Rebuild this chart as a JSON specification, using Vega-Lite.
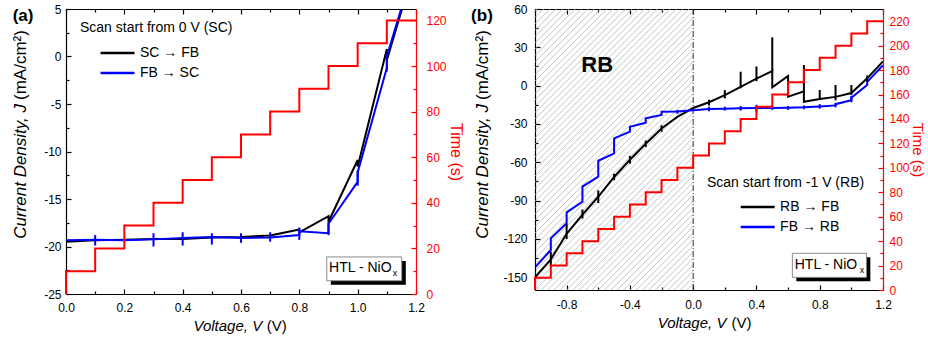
{
 "$schema": "https://vega.github.io/schema/vega-lite/v6.json",
 "padding": {"left": 11, "top": 3, "right": 3, "bottom": 0},
 "background": "white",
 "config": {
   "view": {"stroke": null},
   "font": "Liberation Sans",
   "axis": {"grid": false, "labelFont": "Liberation Sans", "labelFontSize": 12, "labelFlush": false, "labelOverlap": false, "labelColor": "#000", "tickColor": "#000", "domainColor": "#000", "domainWidth": 1.2, "tickWidth": 1.2, "titleFont": "Liberation Sans"},
   "legend": {"titleFont": "Liberation Sans", "labelFont": "Liberation Sans"},
   "text": {"font": "Liberation Sans"}
 },
 "spacing": 7,
 "resolve": {"scale": {"color": "independent"}, "legend": {"color": "independent"}},
 "datasets": {
   "aLines": [
     {"s":"SC → FB","i":1,"V":0,"J":-19.5},
     {"s":"SC → FB","i":2,"V":0.1,"J":-19.35},
     {"s":"SC → FB","i":3,"V":0.2,"J":-19.3},
     {"s":"SC → FB","i":4,"V":0.3,"J":-19.2},
     {"s":"SC → FB","i":5,"V":0.4,"J":-19.2},
     {"s":"SC → FB","i":6,"V":0.5,"J":-19.05},
     {"s":"SC → FB","i":7,"V":0.6,"J":-19.0},
     {"s":"SC → FB","i":8,"V":0.7,"J":-18.85},
     {"s":"SC → FB","i":9,"V":0.8,"J":-18.2},
     {"s":"SC → FB","i":10,"V":0.8,"J":-18.5},
     {"s":"SC → FB","i":11,"V":0.9,"J":-16.8},
     {"s":"SC → FB","i":12,"V":0.9,"J":-17.4},
     {"s":"SC → FB","i":13,"V":1.0,"J":-10.9},
     {"s":"SC → FB","i":14,"V":1.0,"J":-11.6},
     {"s":"SC → FB","i":15,"V":1.1,"J":0.8},
     {"s":"SC → FB","i":16,"V":1.1,"J":-0.4},
     {"s":"SC → FB","i":17,"V":1.2,"J":10},
     {"s":"FB → SC","i":1,"V":1.2,"J":10.2},
     {"s":"FB → SC","i":2,"V":1.1,"J":0.0},
     {"s":"FB → SC","i":3,"V":1.1,"J":-1.2},
     {"s":"FB → SC","i":4,"V":1.0,"J":-12.2},
     {"s":"FB → SC","i":5,"V":1.0,"J":-13.2},
     {"s":"FB → SC","i":6,"V":0.9,"J":-17.6},
     {"s":"FB → SC","i":7,"V":0.9,"J":-18.6},
     {"s":"FB → SC","i":8,"V":0.8,"J":-18.4},
     {"s":"FB → SC","i":9,"V":0.8,"J":-18.8},
     {"s":"FB → SC","i":10,"V":0.7,"J":-19.05},
     {"s":"FB → SC","i":11,"V":0.6,"J":-19.1},
     {"s":"FB → SC","i":12,"V":0.5,"J":-19.0},
     {"s":"FB → SC","i":13,"V":0.4,"J":-19.1},
     {"s":"FB → SC","i":14,"V":0.3,"J":-19.25},
     {"s":"FB → SC","i":15,"V":0.2,"J":-19.35},
     {"s":"FB → SC","i":16,"V":0.1,"J":-19.3},
     {"s":"FB → SC","i":17,"V":0.0,"J":-19.35}
   ],
   "aSpikes": [
     {"s":"FB → SC","V":0.1,"lo":-19.9,"hi":-18.8},
     {"s":"FB → SC","V":0.3,"lo":-20.0,"hi":-18.6},
     {"s":"FB → SC","V":0.4,"lo":-19.9,"hi":-18.5},
     {"s":"FB → SC","V":0.5,"lo":-19.8,"hi":-18.6},
     {"s":"FB → SC","V":0.6,"lo":-19.6,"hi":-18.6},
     {"s":"FB → SC","V":0.7,"lo":-19.5,"hi":-18.5},
     {"s":"FB → SC","V":0.8,"lo":-19.3,"hi":-18.0},
     {"s":"FB → SC","V":0.9,"lo":-18.8,"hi":-17.4},
     {"s":"FB → SC","V":1.0,"lo":-13.6,"hi":-12.0},
     {"s":"FB → SC","V":1.1,"lo":-1.6,"hi":0.3}
   ],
   "aTime": [
     {"i":1,"V":0,"T":0},{"i":2,"V":0,"T":10},{"i":3,"V":0.1,"T":20},{"i":4,"V":0.2,"T":30},
     {"i":5,"V":0.3,"T":40},{"i":6,"V":0.4,"T":50},{"i":7,"V":0.5,"T":60},{"i":8,"V":0.6,"T":70},
     {"i":9,"V":0.7,"T":80},{"i":10,"V":0.8,"T":90},{"i":11,"V":0.9,"T":100},{"i":12,"V":1.0,"T":110},
     {"i":13,"V":1.1,"T":120},{"i":14,"V":1.2,"T":120}
   ],
   "bLines": [
     {"s":"RB → FB","i":1,"V":-1.0,"J":-150},
     {"s":"RB → FB","i":2,"V":-0.9,"J":-136},
     {"s":"RB → FB","i":3,"V":-0.8,"J":-116},
     {"s":"RB → FB","i":4,"V":-0.7,"J":-101},
     {"s":"RB → FB","i":5,"V":-0.6,"J":-87},
     {"s":"RB → FB","i":6,"V":-0.5,"J":-71.5},
     {"s":"RB → FB","i":7,"V":-0.4,"J":-58},
     {"s":"RB → FB","i":8,"V":-0.3,"J":-45.5},
     {"s":"RB → FB","i":9,"V":-0.2,"J":-33.5},
     {"s":"RB → FB","i":10,"V":-0.1,"J":-24.5},
     {"s":"RB → FB","i":11,"V":0.0,"J":-17.5},
     {"s":"RB → FB","i":12,"V":0.1,"J":-13},
     {"s":"RB → FB","i":13,"V":0.2,"J":-7.5},
     {"s":"RB → FB","i":14,"V":0.3,"J":-1},
     {"s":"RB → FB","i":15,"V":0.4,"J":5.5},
     {"s":"RB → FB","i":16,"V":0.5,"J":11.4},
     {"s":"RB → FB","i":17,"V":0.5,"J":-1.3},
     {"s":"RB → FB","i":18,"V":0.6,"J":7.5},
     {"s":"RB → FB","i":19,"V":0.6,"J":-8.6},
     {"s":"RB → FB","i":20,"V":0.7,"J":-4.5},
     {"s":"RB → FB","i":21,"V":0.7,"J":-12.6},
     {"s":"RB → FB","i":22,"V":0.8,"J":-10.5},
     {"s":"RB → FB","i":23,"V":0.9,"J":-8.8},
     {"s":"RB → FB","i":24,"V":1.0,"J":-5.8},
     {"s":"RB → FB","i":25,"V":1.1,"J":5.7},
     {"s":"RB → FB","i":26,"V":1.2,"J":19},
     {"s":"FB → RB","i":1,"V":1.2,"J":16},
     {"s":"FB → RB","i":2,"V":1.1,"J":3},
     {"s":"FB → RB","i":3,"V":1.1,"J":0.5},
     {"s":"FB → RB","i":4,"V":1.0,"J":-9.5},
     {"s":"FB → RB","i":5,"V":1.0,"J":-11.5},
     {"s":"FB → RB","i":6,"V":0.9,"J":-14.5},
     {"s":"FB → RB","i":7,"V":0.9,"J":-15.5},
     {"s":"FB → RB","i":8,"V":0.8,"J":-16.3},
     {"s":"FB → RB","i":9,"V":0.7,"J":-17.0},
     {"s":"FB → RB","i":10,"V":0.6,"J":-17.3},
     {"s":"FB → RB","i":11,"V":0.5,"J":-17.5},
     {"s":"FB → RB","i":12,"V":0.4,"J":-17.6},
     {"s":"FB → RB","i":13,"V":0.3,"J":-17.8},
     {"s":"FB → RB","i":14,"V":0.2,"J":-18.0},
     {"s":"FB → RB","i":15,"V":0.1,"J":-18.3},
     {"s":"FB → RB","i":16,"V":0.0,"J":-19.3},
     {"s":"FB → RB","i":17,"V":-0.1,"J":-20.3},
     {"s":"FB → RB","i":18,"V":-0.2,"J":-20.5},
     {"s":"FB → RB","i":19,"V":-0.2,"J":-23},
     {"s":"FB → RB","i":20,"V":-0.3,"J":-25.6},
     {"s":"FB → RB","i":21,"V":-0.3,"J":-29},
     {"s":"FB → RB","i":22,"V":-0.4,"J":-32.2},
     {"s":"FB → RB","i":23,"V":-0.4,"J":-36},
     {"s":"FB → RB","i":24,"V":-0.5,"J":-41.3},
     {"s":"FB → RB","i":25,"V":-0.5,"J":-53},
     {"s":"FB → RB","i":26,"V":-0.6,"J":-58.8},
     {"s":"FB → RB","i":27,"V":-0.6,"J":-71.3},
     {"s":"FB → RB","i":28,"V":-0.7,"J":-79.1},
     {"s":"FB → RB","i":29,"V":-0.7,"J":-90.9},
     {"s":"FB → RB","i":30,"V":-0.8,"J":-99.2},
     {"s":"FB → RB","i":31,"V":-0.8,"J":-107.8},
     {"s":"FB → RB","i":32,"V":-0.9,"J":-119.6},
     {"s":"FB → RB","i":33,"V":-0.9,"J":-128.7},
     {"s":"FB → RB","i":34,"V":-1.0,"J":-142.3}
   ],
   "bSpikes": [
     {"s":"RB → FB","V":-1.0,"lo":-150,"hi":-124},
     {"s":"RB → FB","V":-0.9,"lo":-142,"hi":-130},
     {"s":"RB → FB","V":-0.8,"lo":-120,"hi":-108},
     {"s":"RB → FB","V":-0.7,"lo":-104,"hi":-97},
     {"s":"RB → FB","V":-0.6,"lo":-92,"hi":-82},
     {"s":"RB → FB","V":-0.5,"lo":-74,"hi":-69},
     {"s":"RB → FB","V":-0.4,"lo":-61,"hi":-55},
     {"s":"RB → FB","V":-0.3,"lo":-48,"hi":-43},
     {"s":"RB → FB","V":-0.2,"lo":-36,"hi":-31},
     {"s":"RB → FB","V":0.1,"lo":-15.5,"hi":-11},
     {"s":"RB → FB","V":0.2,"lo":-10,"hi":-3.5},
     {"s":"RB → FB","V":0.3,"lo":-2.1,"hi":10.9},
     {"s":"RB → FB","V":0.4,"lo":3.5,"hi":15},
     {"s":"RB → FB","V":0.5,"lo":11.4,"hi":37.8},
     {"s":"RB → FB","V":0.7,"lo":-4.5,"hi":16.1},
     {"s":"RB → FB","V":0.8,"lo":-11.3,"hi":-3.4},
     {"s":"RB → FB","V":0.9,"lo":-11.5,"hi":0.5},
     {"s":"RB → FB","V":1.0,"lo":-7.3,"hi":0.5},
     {"s":"RB → FB","V":1.1,"lo":3,"hi":8},
     {"s":"FB → RB","V":-0.1,"lo":-22,"hi":-19},
     {"s":"FB → RB","V":0.1,"lo":-20,"hi":-16.5},
     {"s":"FB → RB","V":0.2,"lo":-19.5,"hi":-16.5},
     {"s":"FB → RB","V":0.3,"lo":-19.5,"hi":-16},
     {"s":"FB → RB","V":0.4,"lo":-21,"hi":-15},
     {"s":"FB → RB","V":0.5,"lo":-19,"hi":-15.5},
     {"s":"FB → RB","V":0.6,"lo":-19,"hi":-16},
     {"s":"FB → RB","V":0.7,"lo":-18.5,"hi":-15.5},
     {"s":"FB → RB","V":0.8,"lo":-18,"hi":-14.5},
     {"s":"FB → RB","V":0.9,"lo":-17,"hi":-13.5},
     {"s":"FB → RB","V":1.0,"lo":-13,"hi":-8}
   ],
   "bTime": [
     {"i":1,"V":-1.0,"T":0},{"i":2,"V":-1.0,"T":10},{"i":3,"V":-0.9,"T":20},{"i":4,"V":-0.8,"T":30},
     {"i":5,"V":-0.7,"T":40},{"i":6,"V":-0.6,"T":50},{"i":7,"V":-0.5,"T":60},{"i":8,"V":-0.4,"T":70},
     {"i":9,"V":-0.3,"T":80},{"i":10,"V":-0.2,"T":90},{"i":11,"V":-0.1,"T":100},{"i":12,"V":0.0,"T":110},
     {"i":13,"V":0.1,"T":120},{"i":14,"V":0.2,"T":130},{"i":15,"V":0.3,"T":140},{"i":16,"V":0.4,"T":150},
     {"i":17,"V":0.5,"T":160},{"i":18,"V":0.6,"T":170},{"i":19,"V":0.7,"T":180},{"i":20,"V":0.8,"T":190},
     {"i":21,"V":0.9,"T":200},{"i":22,"V":1.0,"T":210},{"i":23,"V":1.1,"T":220},{"i":24,"V":1.2,"T":220}
   ],
   "hatch": [
     {"V":-1,"J":58.24,"V2":-0.986,"J2":60},
     {"V":-1,"J":53.28,"V2":-0.946,"J2":60},
     {"V":-1,"J":48.32,"V2":-0.906,"J2":60},
     {"V":-1,"J":43.36,"V2":-0.866,"J2":60},
     {"V":-1,"J":38.4,"V2":-0.826,"J2":60},
     {"V":-1,"J":33.44,"V2":-0.786,"J2":60},
     {"V":-1,"J":28.48,"V2":-0.746,"J2":60},
     {"V":-1,"J":23.52,"V2":-0.706,"J2":60},
     {"V":-1,"J":18.56,"V2":-0.666,"J2":60},
     {"V":-1,"J":13.6,"V2":-0.626,"J2":60},
     {"V":-1,"J":8.64,"V2":-0.586,"J2":60},
     {"V":-1,"J":3.68,"V2":-0.546,"J2":60},
     {"V":-1,"J":-1.28,"V2":-0.506,"J2":60},
     {"V":-1,"J":-6.24,"V2":-0.466,"J2":60},
     {"V":-1,"J":-11.2,"V2":-0.426,"J2":60},
     {"V":-1,"J":-16.16,"V2":-0.386,"J2":60},
     {"V":-1,"J":-21.12,"V2":-0.346,"J2":60},
     {"V":-1,"J":-26.08,"V2":-0.306,"J2":60},
     {"V":-1,"J":-31.04,"V2":-0.266,"J2":60},
     {"V":-1,"J":-36,"V2":-0.226,"J2":60},
     {"V":-1,"J":-40.96,"V2":-0.186,"J2":60},
     {"V":-1,"J":-45.92,"V2":-0.146,"J2":60},
     {"V":-1,"J":-50.88,"V2":-0.106,"J2":60},
     {"V":-1,"J":-55.84,"V2":-0.066,"J2":60},
     {"V":-1,"J":-60.8,"V2":-0.026,"J2":60},
     {"V":-1,"J":-65.76,"V2":0,"J2":58.24},
     {"V":-1,"J":-70.72,"V2":0,"J2":53.28},
     {"V":-1,"J":-75.68,"V2":0,"J2":48.32},
     {"V":-1,"J":-80.64,"V2":0,"J2":43.36},
     {"V":-1,"J":-85.6,"V2":0,"J2":38.4},
     {"V":-1,"J":-90.56,"V2":0,"J2":33.44},
     {"V":-1,"J":-95.52,"V2":0,"J2":28.48},
     {"V":-1,"J":-100.48,"V2":0,"J2":23.52},
     {"V":-1,"J":-105.44,"V2":0,"J2":18.56},
     {"V":-1,"J":-110.4,"V2":0,"J2":13.6},
     {"V":-1,"J":-115.36,"V2":0,"J2":8.64},
     {"V":-1,"J":-120.32,"V2":0,"J2":3.68},
     {"V":-1,"J":-125.28,"V2":0,"J2":-1.28},
     {"V":-1,"J":-130.24,"V2":0,"J2":-6.24},
     {"V":-1,"J":-135.2,"V2":0,"J2":-11.2},
     {"V":-1,"J":-140.16,"V2":0,"J2":-16.16},
     {"V":-1,"J":-145.12,"V2":0,"J2":-21.12},
     {"V":-1,"J":-150.08,"V2":0,"J2":-26.08},
     {"V":-1,"J":-155.04,"V2":0,"J2":-31.04},
     {"V":-1.0,"J":-160,"V2":0,"J2":-36},
     {"V":-0.96,"J":-160,"V2":0,"J2":-40.96},
     {"V":-0.92,"J":-160,"V2":0,"J2":-45.92},
     {"V":-0.88,"J":-160,"V2":0,"J2":-50.88},
     {"V":-0.84,"J":-160,"V2":0,"J2":-55.84},
     {"V":-0.80,"J":-160,"V2":0,"J2":-60.8},
     {"V":-0.76,"J":-160,"V2":0,"J2":-65.76},
     {"V":-0.72,"J":-160,"V2":0,"J2":-70.72},
     {"V":-0.68,"J":-160,"V2":0,"J2":-75.68},
     {"V":-0.64,"J":-160,"V2":0,"J2":-80.64},
     {"V":-0.60,"J":-160,"V2":0,"J2":-85.6},
     {"V":-0.56,"J":-160,"V2":0,"J2":-90.56},
     {"V":-0.52,"J":-160,"V2":0,"J2":-95.52},
     {"V":-0.48,"J":-160,"V2":0,"J2":-100.48},
     {"V":-0.44,"J":-160,"V2":0,"J2":-105.44},
     {"V":-0.40,"J":-160,"V2":0,"J2":-110.4},
     {"V":-0.36,"J":-160,"V2":0,"J2":-115.36},
     {"V":-0.32,"J":-160,"V2":0,"J2":-120.32},
     {"V":-0.28,"J":-160,"V2":0,"J2":-125.28},
     {"V":-0.24,"J":-160,"V2":0,"J2":-130.24},
     {"V":-0.20,"J":-160,"V2":0,"J2":-135.2},
     {"V":-0.16,"J":-160,"V2":0,"J2":-140.16},
     {"V":-0.12,"J":-160,"V2":0,"J2":-145.12},
     {"V":-0.08,"J":-160,"V2":0,"J2":-150.08},
     {"V":-0.04,"J":-160,"V2":0,"J2":-155.04}
   ]
 },
 "hconcat": [
  {
   "width": 350, "height": 285,
   "resolve": {"scale": {"y": "independent"}, "axis": {"x": "independent", "y": "independent"}},
   "layer": [
    {
     "resolve": {"axis": {"x": "independent", "y": "independent"}},
     "layer": [
      {"data": {"name": "aLines"}, "mark": {"type": "line", "strokeWidth": 2, "clip": true},
       "encoding": {
        "x": {"field": "V", "type": "quantitative", "scale": {"domain": [0, 1.2], "nice": false, "zero": false},
              "axis": {"orient": "bottom", "values": [0, 0.2, 0.4, 0.6, 0.8, 1.0, 1.2], "format": ".1f", "title": null, "tickSize": -5, "labelPadding": 13}},
        "y": {"field": "J", "type": "quantitative", "scale": {"domain": [-25, 5], "nice": false, "zero": false},
              "axis": {"orient": "left", "values": [-25, -20, -15, -10, -5, 0, 5], "format": "d", "labelExpr": "replace(datum.label, '\u2212', '-')", "title": null, "tickSize": -5, "labelPadding": 10}},
        "color": {"field": "s", "type": "nominal", "scale": {"domain": ["SC → FB", "FB → SC"], "range": ["#000000", "#0000ff"]},
                  "legend": {"title": "Scan start from 0 V (SC)", "orient": "none", "legendX": 14, "legendY": 12, "titleFontSize": 14, "titleFontWeight": "normal", "titleColor": "#000", "labelFontSize": 14, "labelColor": "#000", "symbolType": "M-3,0L3,0", "symbolSize": 128, "symbolStrokeWidth": 2.5, "symbolOffset": 30.5, "labelOffset": 15.4, "rowPadding": 6, "titlePadding": 11, "padding": 0}},
        "order": {"field": "i", "type": "quantitative"}
       }},
      {"data": {"name": "aSpikes"}, "mark": {"type": "rule", "strokeWidth": 2, "clip": true},
       "encoding": {
        "x": {"field": "V", "type": "quantitative", "axis": {"orient": "bottom", "values": [0.1, 0.3, 0.5, 0.7, 0.9, 1.1], "labels": false, "domain": false, "tickSize": -3, "title": null}},
        "y": {"field": "lo", "type": "quantitative", "axis": {"orient": "left", "values": [-22.5, -17.5, -12.5, -7.5, -2.5, 2.5], "labels": false, "domain": false, "tickSize": -3, "title": null}},
        "y2": {"field": "hi"},
        "color": {"field": "s", "type": "nominal", "legend": null}
       }},
      {"data": {"values": [{}]}, "mark": {"type": "rect", "color": "#000000"},
       "encoding": {"x": {"datum": 0.908, "axis": null}, "x2": {"datum": 1.165}, "y": {"datum": -21.52, "axis": null}, "y2": {"datum": -24.02}}},
      {"data": {"values": [{}]}, "mark": {"type": "rect", "fill": "#ffffff", "stroke": "#8c8c8c", "strokeWidth": 1},
       "encoding": {"x": {"datum": 0.894, "axis": null}, "x2": {"datum": 1.151}, "y": {"datum": -21.1, "axis": null}, "y2": {"datum": -23.6}}},
      {"data": {"values": [{}]}, "mark": {"type": "text", "text": "HTL - NiO", "fontSize": 14, "align": "left", "baseline": "alphabetic", "color": "#000"},
       "encoding": {"x": {"datum": 0.902, "axis": null}, "y": {"datum": -22.65, "axis": null}}},
      {"data": {"values": [{}]}, "mark": {"type": "text", "text": "x", "fontSize": 9, "align": "left", "baseline": "alphabetic", "color": "#000"},
       "encoding": {"x": {"datum": 1.12, "axis": null}, "y": {"datum": -23.1, "axis": null}}},
      {"data": {"values": [{}]}, "mark": {"type": "text", "text": "(a)", "fontSize": 17, "fontWeight": "bold", "align": "left", "baseline": "alphabetic", "color": "#000"},
       "encoding": {"x": {"datum": -0.183, "axis": null}, "y": {"datum": 3.69, "axis": null}}},
      {"data": {"values": [{}]}, "mark": {"type": "text", "text": "Current Density, J", "fontSize": 17, "fontStyle": "italic", "angle": 270, "align": "right", "baseline": "middle", "color": "#000"},
       "encoding": {"x": {"datum": -0.155, "axis": null}, "y": {"datum": -5.0, "axis": null}}},
      {"data": {"values": [{}]}, "mark": {"type": "text", "text": "(mA/cm²)", "fontSize": 17, "angle": 270, "align": "left", "baseline": "middle", "dx": 4, "color": "#000"},
       "encoding": {"x": {"datum": -0.155, "axis": null}, "y": {"datum": -5.0, "axis": null}}},
      {"data": {"values": [{}]}, "mark": {"type": "text", "text": "Voltage, V", "fontSize": 15, "fontStyle": "italic", "align": "right", "baseline": "alphabetic", "color": "#000"},
       "encoding": {"x": {"datum": 0.6725, "axis": null}, "y": {"datum": -28.9, "axis": null}}},
      {"data": {"values": [{}]}, "mark": {"type": "text", "text": "(V)", "fontSize": 15, "align": "left", "baseline": "alphabetic", "color": "#000"},
       "encoding": {"x": {"datum": 0.688, "axis": null}, "y": {"datum": -28.9, "axis": null}}}
     ]
    },
    {
     "resolve": {"axis": {"x": "independent", "y": "independent"}},
     "layer": [
      {"data": {"name": "aTime"}, "mark": {"type": "line", "interpolate": "step-after", "color": "#ff0000", "strokeWidth": 2},
       "encoding": {
        "x": {"field": "V", "type": "quantitative", "scale": {"domain": [0, 1.2], "nice": false, "zero": false},
              "axis": {"orient": "top", "values": [0, 0.2, 0.4, 0.6, 0.8, 1.0, 1.2], "labels": false, "title": null, "tickSize": -5}},
        "y": {"field": "T", "type": "quantitative", "scale": {"domain": [0, 125], "nice": false, "zero": false},
              "axis": {"orient": "right", "values": [0, 20, 40, 60, 80, 100, 120], "format": "d", "title": "Time (s)", "titleColor": "#ff0000", "titleFontSize": 16, "titleFontWeight": "normal", "titlePadding": 1, "labelColor": "#ff0000", "tickColor": "#ff0000", "domainColor": "#ff0000", "tickSize": -5, "labelPadding": 15}},
        "order": {"field": "i", "type": "quantitative"}
       }},
      {"data": {"name": "aTime"}, "mark": {"type": "line", "interpolate": "step-after", "opacity": 0},
       "encoding": {
        "x": {"field": "V", "type": "quantitative", "axis": {"orient": "top", "values": [0.1, 0.3, 0.5, 0.7, 0.9, 1.1], "labels": false, "domain": false, "title": null, "tickSize": -3}},
        "y": {"field": "T", "type": "quantitative", "axis": {"orient": "right", "values": [10, 30, 50, 70, 90, 110], "labels": false, "domain": false, "title": null, "tickSize": -3, "tickColor": "#ff0000"}},
        "order": {"field": "i", "type": "quantitative"}
       }}
     ]
    }
   ]
  },
  {
   "width": 348, "height": 281,
   "resolve": {"scale": {"y": "independent"}, "axis": {"x": "independent", "y": "independent"}},
   "layer": [
    {
     "resolve": {"axis": {"x": "independent", "y": "independent"}},
     "layer": [
      {"data": {"name": "hatch"}, "mark": {"type": "rule", "color": "#b4b4b4", "strokeWidth": 0.8, "clip": true},
       "encoding": {
        "x": {"field": "V", "type": "quantitative", "scale": {"domain": [-1, 1.2], "nice": false, "zero": false}, "axis": null},
        "x2": {"field": "V2"},
        "y": {"field": "J", "type": "quantitative", "scale": {"domain": [-160, 60], "nice": false, "zero": false}, "axis": null},
        "y2": {"field": "J2"}
       }},
      {"data": {"values": [{}]}, "mark": {"type": "rule", "color": "#333333", "strokeWidth": 1, "strokeDash": [6, 2, 1, 2]},
       "encoding": {"x": {"datum": 0, "axis": null}, "y": {"datum": -160, "axis": null}, "y2": {"datum": 60}}},
      {"data": {"name": "bLines"}, "mark": {"type": "line", "strokeWidth": 2, "clip": true},
       "encoding": {
        "x": {"field": "V", "type": "quantitative", "scale": {"domain": [-1, 1.2], "nice": false, "zero": false},
              "axis": {"orient": "bottom", "values": [-0.8, -0.4, 0, 0.4, 0.8, 1.2], "format": ".1f", "labelExpr": "replace(datum.label, '\u2212', '-')", "title": null, "tickSize": -5, "labelPadding": 14}},
        "y": {"field": "J", "type": "quantitative", "scale": {"domain": [-160, 60], "nice": false, "zero": false},
              "axis": {"orient": "left", "values": [-150, -120, -90, -60, -30, 0, 30, 60], "format": "d", "labelExpr": "replace(datum.label, '\u2212', '-')", "title": null, "tickSize": -5, "labelPadding": 13}},
        "color": {"field": "s", "type": "nominal", "scale": {"domain": ["RB → FB", "FB → RB"], "range": ["#000000", "#0000ff"]},
                  "legend": {"title": "Scan start from -1 V (RB)", "orient": "none", "legendX": 172, "legendY": 167, "titleFontSize": 14, "titleFontWeight": "normal", "titleColor": "#000", "labelFontSize": 14, "labelColor": "#000", "symbolType": "M-3,0L3,0", "symbolSize": 128, "symbolStrokeWidth": 2.5, "symbolOffset": 43.7, "labelOffset": 15.4, "rowPadding": 6, "titlePadding": 10, "padding": 0}},
        "order": {"field": "i", "type": "quantitative"}
       }},
      {"data": {"name": "bSpikes"}, "mark": {"type": "rule", "strokeWidth": 2, "clip": true},
       "encoding": {
        "x": {"field": "V", "type": "quantitative", "axis": {"orient": "bottom", "values": [-1.0, -0.6, -0.2, 0.2, 0.6, 1.0], "labels": false, "domain": false, "tickSize": -3, "title": null}},
        "y": {"field": "lo", "type": "quantitative", "axis": {"orient": "left", "values": [-135, -105, -75, -45, -15, 15, 45], "labels": false, "domain": false, "tickSize": -3, "title": null}},
        "y2": {"field": "hi"},
        "color": {"field": "s", "type": "nominal", "legend": null}
       }},
      {"data": {"values": [{}]}, "mark": {"type": "rect", "color": "#000000"},
       "encoding": {"x": {"datum": 0.652, "axis": null}, "x2": {"datum": 1.12}, "y": {"datum": -134.4, "axis": null}, "y2": {"datum": -153.2}}},
      {"data": {"values": [{}]}, "mark": {"type": "rect", "fill": "#ffffff", "stroke": "#8c8c8c", "strokeWidth": 1},
       "encoding": {"x": {"datum": 0.627, "axis": null}, "x2": {"datum": 1.095}, "y": {"datum": -131.3, "axis": null}, "y2": {"datum": -150.1}}},
      {"data": {"values": [{}]}, "mark": {"type": "text", "text": "HTL - NiO", "fontSize": 14, "align": "left", "baseline": "alphabetic", "color": "#000"},
       "encoding": {"x": {"datum": 0.642, "axis": null}, "y": {"datum": -143.8, "axis": null}}},
      {"data": {"values": [{}]}, "mark": {"type": "text", "text": "x", "fontSize": 9, "align": "left", "baseline": "alphabetic", "color": "#000"},
       "encoding": {"x": {"datum": 1.053, "axis": null}, "y": {"datum": -147, "axis": null}}},
      {"data": {"values": [{}]}, "mark": {"type": "text", "text": "RB", "fontSize": 22, "fontWeight": "bold", "align": "left", "baseline": "alphabetic", "color": "#000"},
       "encoding": {"x": {"datum": -0.7075, "axis": null}, "y": {"datum": 10.7, "axis": null}}},
      {"data": {"values": [{}]}, "mark": {"type": "text", "text": "(b)", "fontSize": 17, "fontWeight": "bold", "align": "left", "baseline": "alphabetic", "color": "#000"},
       "encoding": {"x": {"datum": -1.404, "axis": null}, "y": {"datum": 50.3, "axis": null}}},
      {"data": {"values": [{}]}, "mark": {"type": "text", "text": "Current Density, J", "fontSize": 17, "fontStyle": "italic", "angle": 270, "align": "right", "baseline": "middle", "color": "#000"},
       "encoding": {"x": {"datum": -1.3266, "axis": null}, "y": {"datum": -14.4, "axis": null}}},
      {"data": {"values": [{}]}, "mark": {"type": "text", "text": "(mA/cm²)", "fontSize": 17, "angle": 270, "align": "left", "baseline": "middle", "dx": 4, "color": "#000"},
       "encoding": {"x": {"datum": -1.3266, "axis": null}, "y": {"datum": -14.4, "axis": null}}},
      {"data": {"values": [{}]}, "mark": {"type": "text", "text": "Voltage, V", "fontSize": 15, "fontStyle": "italic", "align": "right", "baseline": "alphabetic", "color": "#000"},
       "encoding": {"x": {"datum": 0.21, "axis": null}, "y": {"datum": -189.8, "axis": null}}},
      {"data": {"values": [{}]}, "mark": {"type": "text", "text": "(V)", "fontSize": 15, "align": "left", "baseline": "alphabetic", "color": "#000"},
       "encoding": {"x": {"datum": 0.242, "axis": null}, "y": {"datum": -189.8, "axis": null}}}
     ]
    },
    {
     "resolve": {"axis": {"x": "independent", "y": "independent"}},
     "layer": [
      {"data": {"name": "bTime"}, "mark": {"type": "line", "interpolate": "step-after", "color": "#ff0000", "strokeWidth": 2},
       "encoding": {
        "x": {"field": "V", "type": "quantitative", "scale": {"domain": [-1, 1.2], "nice": false, "zero": false},
              "axis": {"orient": "top", "values": [-0.8, -0.4, 0, 0.4, 0.8, 1.2], "labels": false, "title": null, "tickSize": -5}},
        "y": {"field": "T", "type": "quantitative", "scale": {"domain": [0, 230], "nice": false, "zero": false},
              "axis": {"orient": "right", "values": [0, 20, 40, 60, 80, 100, 120, 140, 160, 180, 200, 220], "format": "d", "title": "Time (s)", "titleColor": "#ff0000", "titleFontSize": 15, "titleFontWeight": "normal", "titlePadding": 0, "labelColor": "#ff0000", "tickColor": "#ff0000", "domainColor": "#ff0000", "tickSize": -5, "labelPadding": 11}},
        "order": {"field": "i", "type": "quantitative"}
       }},
      {"data": {"name": "bTime"}, "mark": {"type": "line", "interpolate": "step-after", "opacity": 0},
       "encoding": {
        "x": {"field": "V", "type": "quantitative", "axis": {"orient": "top", "values": [-1.0, -0.6, -0.2, 0.2, 0.6, 1.0], "labels": false, "domain": false, "title": null, "tickSize": -3}},
        "y": {"field": "T", "type": "quantitative", "axis": {"orient": "right", "values": [10, 30, 50, 70, 90, 110, 130, 150, 170, 190, 210], "labels": false, "domain": false, "title": null, "tickSize": -3, "tickColor": "#ff0000"}},
        "order": {"field": "i", "type": "quantitative"}
       }}
     ]
    }
   ]
  }
 ]
}
